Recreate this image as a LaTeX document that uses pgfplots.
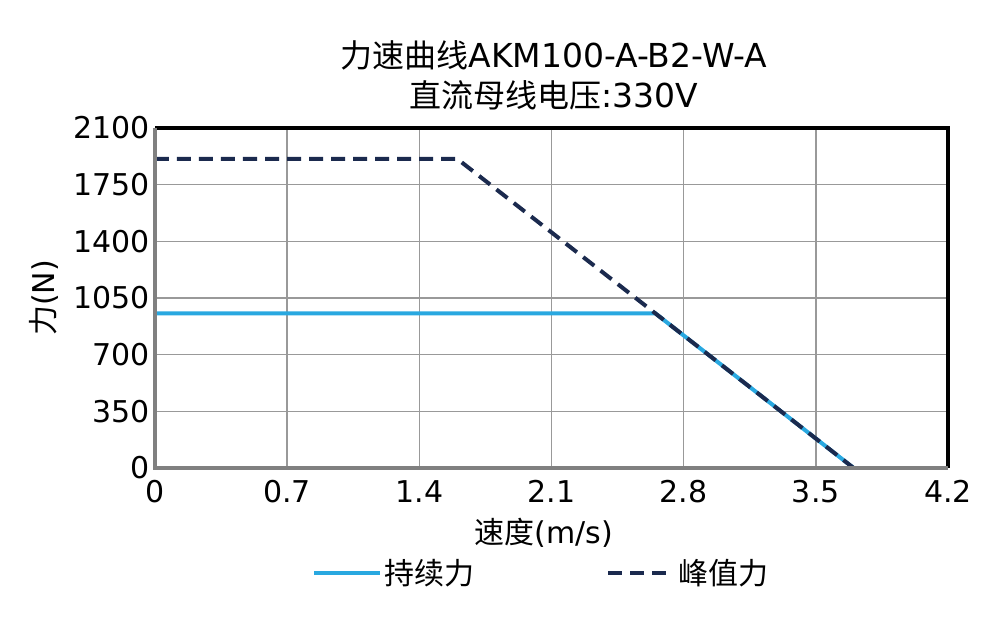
\documentclass[border=0pt]{standalone}
\usepackage{pgfplots}
\pgfplotsset{compat=1.18}
\usepackage{fontspec}
\setmainfont{DejaVu Sans}
\newfontfamily\cjk{Noto Sans CJK SC}
\definecolor{contblue}{HTML}{29A8E0}
\definecolor{peaknavy}{HTML}{1B2A4E}
\definecolor{gridgray}{HTML}{999999}

\begin{document}
\begin{tikzpicture}
\begin{axis}[
    scale only axis,
    width=793pt, height=340pt,
    xmin=0, xmax=4.2, ymin=0, ymax=2100,
    xtick={0,0.7,1.4,2.1,2.8,3.5,4.2},
    ytick={0,350,700,1050,1400,1750,2100},
    xticklabels={0,0.7,1.4,2.1,2.8,3.5,4.2},
    yticklabels={0,350,700,1050,1400,1750,2100},
    major tick length=0pt,
    grid=major,
    grid style={gridgray, line width=1.5pt},
    axis line style={draw=none},
    tick label style={font=\fontsize{30}{36}\selectfont},
    xticklabel style={yshift=-9pt},
    yticklabel style={xshift=-2pt},
    title={{\cjk\fontsize{32}{40}\selectfont 力速曲线}AKM100-A-B2-W-A\\{\cjk\fontsize{32}{40}\selectfont 直流母线电压}:330V},
    title style={align=center, font=\fontsize{33}{40}\selectfont, at={(axis description cs:0.503,1.138)}, anchor=center},
    xlabel={{\cjk 速度}(m/s)},
    xlabel style={font=\fontsize{30}{36}\selectfont, at={(axis description cs:0.49,-0.19)}, anchor=center},
    ylabel={{\cjk 力}(N)},
    ylabel style={font=\fontsize{30}{36}\selectfont, at={(axis description cs:-0.14,0.5)}, anchor=center},
    legend columns=2,
    legend style={draw=none, fill=none, font=\cjk\fontsize{30}{36}\selectfont,
        at={(axis description cs:0.487,-0.309)}, anchor=center,
        /tikz/every even column/.append style={column sep=130pt}},
    legend image code/.code={\draw[#1] (0pt,0pt) -- (66pt,0pt);},
]
\addplot[contblue, line width=4pt] coordinates {(0,955) (2.65,955) (3.7,0)};
\addlegendentry{持续力}
\addplot[peaknavy, line width=4pt, dash pattern=on 14pt off 8pt] coordinates {(0,1910) (1.6,1910) (3.7,0)};
\addlegendentry{峰值力}
\coordinate (sw) at (rel axis cs:0,0);
\coordinate (ne) at (rel axis cs:1,1);
\end{axis}
\draw[line width=4pt, black] ([xshift=-2pt]ne) -- ++(2pt,0) |- (sw -| ne);
\draw[line width=4pt, black] (ne -| sw) -- (ne);
\draw[line width=4pt, gray] (ne -| sw) -- (sw) -- (sw -| ne);
\pgfresetboundingbox
\path[use as bounding box] ([shift={(-155pt,-167pt)}]sw) rectangle ([shift={(39pt,128pt)}]ne);
\end{tikzpicture}
\end{document}
